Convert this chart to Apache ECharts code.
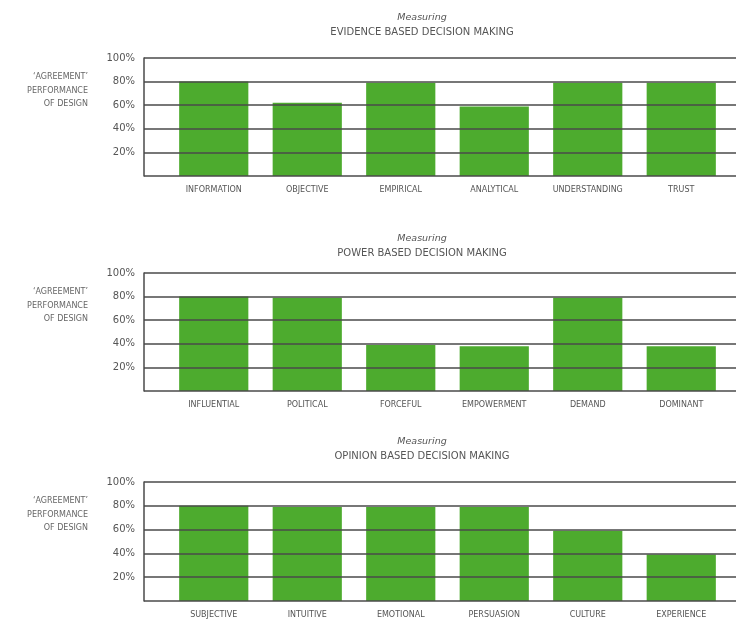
<!DOCTYPE html>
<html><head><meta charset="utf-8">
<script src="https://cdn.jsdelivr.net/npm/echarts@6/dist/echarts.min.js"></script>
<style>html,body{margin:0;padding:0;background:#fff}#c{width:736px;height:622px}</style>
</head><body><div id="c"></div>
<script>
const titles = ['EVIDENCE BASED DECISION MAKING', 'POWER BASED DECISION MAKING', 'OPINION BASED DECISION MAKING'];
const categories1 = ['INFORMATION', 'OBJECTIVE', 'EMPIRICAL', 'ANALYTICAL', 'UNDERSTANDING', 'TRUST'];
const values1 = [80, 62, 79, 59, 79, 79];
const categories2 = ['INFLUENTIAL', 'POLITICAL', 'FORCEFUL', 'EMPOWERMENT', 'DEMAND', 'DOMINANT'];
const values2 = [80, 79, 39, 38, 79, 38];
const categories3 = ['SUBJECTIVE', 'INTUITIVE', 'EMOTIONAL', 'PERSUASION', 'CULTURE', 'EXPERIENCE'];
const values3 = [80, 79, 79, 79, 59, 39];
const yTicks = [0, 20, 40, 60, 80, 100];
const sideLabel = ['\u2018AGREEMENT\u2019', 'PERFORMANCE', 'OF DESIGN'];

const FONT = '"DejaVu Sans", sans-serif';
const GREEN = '#4dab2e';
const LINE = '#4a4a4a';
const TXT = '#555';
const panels = [
  {cats: categories1, vals: values1, top: 58, h: 118, titleTop: 8},
  {cats: categories2, vals: values2, top: 273, h: 118, titleTop: 229},
  {cats: categories3, vals: values3, top: 482, h: 119, titleTop: 432}
];

const grid = [], xAxis = [], yAxis = [], series = [], title = [], graphic = [];
panels.forEach((p, i) => {
  grid.push({left: 144, right: 0, top: p.top, height: p.h});
  grid.push({left: 167, width: 561, top: p.top, height: p.h});
  xAxis.push({gridIndex: 2*i, type: 'value', min: 0, max: 1, show: false});
  xAxis.push({gridIndex: 2*i+1, type: 'category', data: p.cats,
    axisLine: {show: false}, axisTick: {show: false},
    axisLabel: {margin: 10, fontSize: 8, color: TXT, fontFamily: FONT}});
  yAxis.push({gridIndex: 2*i, type: 'value', min: yTicks[0], max: yTicks[yTicks.length-1], interval: 20, z: 5,
    axisLine: {show: true, lineStyle: {color: LINE, width: 1.5}}, axisTick: {show: false},
    axisLabel: {margin: 9, fontSize: 10, color: TXT, fontFamily: FONT,
      formatter: v => v === 0 ? '' : v + '%'},
    splitLine: {show: true, lineStyle: {color: LINE, width: 1.5}}});
  yAxis.push({gridIndex: 2*i+1, type: 'value', min: 0, max: 100, show: false, splitLine: {show: false}});
  series.push({type: 'bar', xAxisIndex: 2*i+1, yAxisIndex: 2*i+1, data: p.vals,
    barWidth: '74%', itemStyle: {color: GREEN}, z: 2, silent: true});
  title.push({text: 'Measuring', subtext: titles[i], left: 417, top: p.titleTop, textAlign: 'center', itemGap: 4,
    textStyle: {fontSize: 9.5, fontWeight: 'normal', fontStyle: 'italic', color: TXT, fontFamily: FONT},
    subtextStyle: {fontSize: 10, color: TXT, fontFamily: FONT}});
  sideLabel.forEach((t, j) => {
    graphic.push({type: 'text', right: 736 - 88, top: p.top + 15 + j * 13.5,
      style: {text: t, fontSize: 8, fill: '#666', fontFamily: FONT, textAlign: 'right'}});
  });
});

const chart = echarts.init(document.getElementById('c'));
chart.setOption({animation: false, grid, xAxis, yAxis, series, title, graphic});
</script></body></html>
